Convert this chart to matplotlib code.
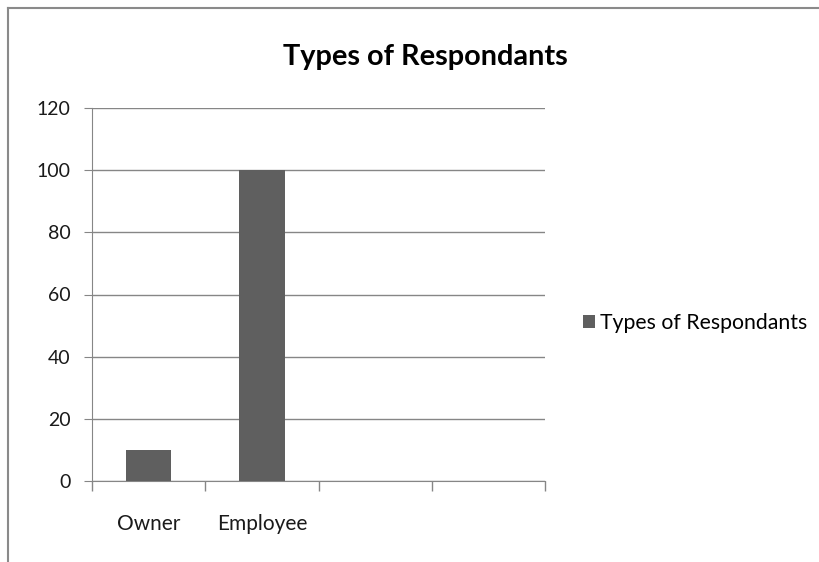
import matplotlib
matplotlib.use("Agg")
from matplotlib import pyplot as plt
from matplotlib.lines import Line2D

categories = ['Owner', 'Employee', '', '']
values = [10, 100, 0, 0]
y_ticks = [0, 20, 40, 60, 80, 100, 120]
series_name = 'Types of Respondants'

plt.rcParams['font.family'] = ['Lato', 'DejaVu Sans']

fig = plt.figure(figsize=(8.19, 5.62), dpi=100)
ax = fig.add_axes([92 / 819, 1 - 481 / 562, (545 - 92) / 819, (481 - 108) / 562])

grid_col = '#868686'
bar_col = '#5f5f5f'
text_col = '#1a1a1a'

x = list(range(len(categories)))
ax.bar(x[:2], values[:2], width=0.4, color=bar_col, label=series_name, zorder=3)
ax.set_xlim(-0.5, len(categories) - 0.5)
ax.set_ylim(0, 120)
ax.set_yticks(y_ticks)
ax.yaxis.grid(True, color=grid_col, linewidth=1)
ax.set_axisbelow(True)

# category labels between boundary ticks
ax.set_xticks([i - 0.5 for i in range(len(categories) + 1)])
ax.set_xticklabels([])
ax.set_xticks(x, minor=True)
ax.set_xticklabels(categories, minor=True, fontsize=15, color=text_col)
ax.tick_params(axis='x', which='major', length=7, color=grid_col, width=1)
ax.tick_params(axis='x', which='minor', length=0, pad=24)
ax.tick_params(axis='y', length=6, color=grid_col, labelsize=14, labelcolor=text_col, pad=9.5)

for s in ['top', 'right']:
    ax.spines[s].set_visible(False)
ax.spines['left'].set_color(grid_col)
ax.spines['bottom'].set_color(grid_col)

fig.suptitle(series_name, x=425 / 819, y=1 - 57 / 562, fontsize=20.8, fontweight='bold', va='center')

fig.legend(loc='center left', bbox_to_anchor=(583 / 819, 1 - 323 / 562), frameon=False,
           fontsize=15.3, handlelength=0.55, handleheight=0.55, handletextpad=0.25,
           borderpad=0, borderaxespad=0)

# outer chart border (top and left visible)
fig.add_artist(Line2D([8 / 819, 8 / 819], [0, 1 - 8 / 562], color='#8a8a8a', linewidth=1.5))
fig.add_artist(Line2D([8 / 819, 1], [1 - 8 / 562, 1 - 8 / 562], color='#8a8a8a', linewidth=1.5))

fig.savefig('out.png', dpi=100)
